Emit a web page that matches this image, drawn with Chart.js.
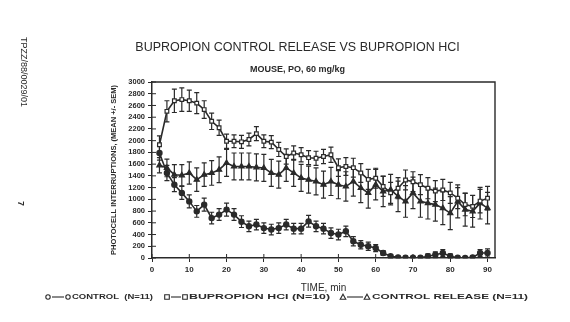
<!DOCTYPE html>
<html>
<head>
<meta charset="utf-8">
<script src="https://cdn.jsdelivr.net/npm/chart.js@4/dist/chart.umd.min.js"></script>
<style>
  html, body { margin: 0; background: #fff; }
  canvas { display: block; }
</style>
</head>
<body>
<canvas id="chart" width="570" height="322" style="width:570px;height:322px"></canvas>
<script>
// values (mean and SEM, photocell interruptions)
const times = [2, 4, 6, 8, 10, 12, 14, 16, 18, 20, 22, 24, 26, 28, 30, 32, 34, 36, 38, 40, 42, 44, 46,
  48, 50, 52, 54, 56, 58, 60, 62, 64, 66, 68, 70, 72, 74, 76, 78, 80, 82, 84, 86, 88, 90];

const control = [1790, 1450, 1250, 1110, 965, 795, 910, 680, 740, 825, 740, 620, 540, 570, 510, 485, 510, 570,
  500, 500, 625, 540, 500, 425, 400, 455, 285, 225, 200, 170, 85, 30, 10, 5, 5, 5, 30, 55, 85, 30, 5, 0, 10, 85, 85];
const controlSem = [120, 130, 120, 110, 110, 100, 110, 100, 100, 110, 100, 100, 90, 90, 90, 90, 90, 90, 90, 90,
  100, 90, 90, 90, 90, 90, 80, 70, 70, 60, 40, 30, 20, 20, 20, 20, 40, 50, 60, 40, 20, 20, 30, 60, 70];

const hcl = [1930, 2500, 2680, 2700, 2680, 2640, 2530, 2330, 2220, 1990, 1990, 1980, 2020, 2120, 1990, 1975, 1850,
  1730, 1790, 1760, 1710, 1700, 1730, 1760, 1540, 1560, 1540, 1450, 1340, 1360, 1220, 1110, 1190, 1330, 1300, 1250,
  1190, 1140, 1160, 1110, 1020, 910, 880, 970, 1020];
const hclSem = [150, 180, 200, 200, 180, 180, 150, 140, 130, 120, 110, 110, 110, 120, 110, 110, 120, 130, 120, 120,
  120, 120, 120, 130, 150, 150, 160, 160, 170, 170, 170, 180, 180, 170, 170, 170, 180, 180, 180, 180, 180, 190, 190, 200, 200];

const release = [1580, 1535, 1420, 1410, 1450, 1335, 1420, 1450, 1505, 1620, 1560, 1560, 1560, 1545, 1535, 1450,
  1420, 1535, 1450, 1365, 1335, 1305, 1250, 1305, 1250, 1220, 1305, 1195, 1110, 1250, 1135, 1165, 1050, 965, 1110,
  965, 935, 910, 850, 765, 965, 825, 795, 935, 850];
const releaseSem = [130, 150, 170, 180, 190, 200, 200, 210, 220, 230, 230, 230, 230, 230, 230, 230, 230, 230, 230, 230,
  230, 230, 230, 240, 240, 250, 250, 250, 260, 260, 260, 260, 260, 270, 270, 270, 270, 280, 280, 280, 280, 280, 270, 270, 270];

const seriesNames = ['CONTROL  (N=11)', 'BUPROPION HCI (N=10)', 'CONTROL RELEASE (N=11)'];

const INK = '#2a2a2a';

const toPoints = (ys) => times.map((t, i) => ({ x: t, y: ys[i] }));

const errorBars = {
  id: 'errorBars',
  beforeDatasetsDraw(chart) {
    const { ctx, scales: { y } } = chart;
    ctx.save();
    ctx.strokeStyle = INK;
    ctx.lineWidth = 1.2;
    chart.data.datasets.forEach((ds, di) => {
      const meta = chart.getDatasetMeta(di);
      meta.data.forEach((pt, i) => {
        const v = ds.data[i].y;
        const e = ds.sem[i];
        const top = y.getPixelForValue(v + e);
        const bot = y.getPixelForValue(Math.max(v - e, 0));
        ctx.beginPath();
        ctx.moveTo(pt.x, top);
        ctx.lineTo(pt.x, bot);
        ctx.moveTo(pt.x - 2.5, top);
        ctx.lineTo(pt.x + 2.5, top);
        ctx.moveTo(pt.x - 2.5, bot);
        ctx.lineTo(pt.x + 2.5, bot);
        ctx.stroke();
      });
    });
    ctx.restore();
  },
};

// frame on top/right, inner tick marks, legend and margin notes
const decorations = {
  id: 'decorations',
  afterDraw(chart) {
    const { ctx, chartArea: { left, top, right, bottom }, scales: { x, y } } = chart;
    ctx.save();
    ctx.strokeStyle = INK;
    ctx.lineWidth = 1.4;
    ctx.beginPath();
    ctx.moveTo(left, top);
    ctx.lineTo(right, top);
    ctx.lineTo(right, bottom);
    ctx.stroke();

    ctx.lineWidth = 1;
    ctx.beginPath();
    y.ticks.forEach((t) => {
      const py = y.getPixelForValue(t.value);
      ctx.moveTo(left, py);
      ctx.lineTo(left + 4, py);
    });
    x.ticks.forEach((t) => {
      const px = x.getPixelForValue(t.value);
      ctx.moveTo(px, bottom);
      ctx.lineTo(px, bottom - 4);
    });
    ctx.stroke();

    // legend
    const items = [
      { style: 'circle', s1: 48, s2: 68, tx: 72, tw: 81 },
      { style: 'rect', s1: 167, s2: 185, tx: 189, tw: 141 },
      { style: 'triangle', s1: 343, s2: 367, tx: 372, tw: 156 },
    ];
    const ly = 297;
    ctx.fillStyle = INK;
    ctx.lineWidth = 1.1;
    ctx.font = 'bold 7.5px "Liberation Sans", Arial, sans-serif';
    ctx.textBaseline = 'middle';
    items.forEach((it, i) => {
      ctx.beginPath();
      ctx.moveTo(it.s1 + 4, ly);
      ctx.lineTo(it.s2 - 4, ly);
      ctx.stroke();
      [it.s1, it.s2].forEach((sx) => {
        ctx.beginPath();
        if (it.style === 'circle') ctx.arc(sx, ly, 2.2, 0, Math.PI * 2);
        if (it.style === 'rect') ctx.rect(sx - 2.3, ly - 2.3, 4.6, 4.6);
        if (it.style === 'triangle') {
          ctx.moveTo(sx, ly - 2.8);
          ctx.lineTo(sx + 2.8, ly + 2.3);
          ctx.lineTo(sx - 2.8, ly + 2.3);
          ctx.closePath();
        }
        ctx.stroke();
      });
      const w = ctx.measureText(seriesNames[i]).width;
      ctx.save();
      ctx.translate(it.tx, ly);
      ctx.scale(it.tw / w, 1);
      ctx.fillText(seriesNames[i], 0, 0);
      ctx.restore();
    });

    // margin notes of the scanned page
    ctx.font = '9px "Liberation Sans", Arial, sans-serif';
    ctx.textBaseline = 'middle';
    ctx.save();
    ctx.translate(23, 37);
    ctx.rotate(Math.PI / 2);
    ctx.fillText('TPZZ/88/0029/01', 0, 0);
    ctx.restore();
    ctx.save();
    ctx.translate(20, 201);
    ctx.rotate(Math.PI / 2);
    ctx.font = 'bold 9px "Liberation Sans", Arial, sans-serif';
    ctx.fillText('7', 0, 0);
    ctx.restore();
    ctx.restore();
  },
};

const makeSet = (label, ys, sem, style, fill, radius) => ({
  label,
  data: toPoints(ys),
  sem,
  borderColor: INK,
  borderWidth: 1.6,
  pointStyle: style,
  pointRadius: radius,
  pointBackgroundColor: fill,
  pointBorderColor: INK,
  pointBorderWidth: 1.2,
  tension: 0,
});

new Chart(document.getElementById('chart'), {
  type: 'line',
  data: {
    datasets: [
      makeSet(seriesNames[0], control, controlSem, 'circle', INK, 2.6),
      makeSet(seriesNames[1], hcl, hclSem, 'rect', '#ffffff', 2.6),
      makeSet(seriesNames[2], release, releaseSem, 'triangle', INK, 3),
    ],
  },
  options: {
    responsive: false,
    animation: false,
    events: [],
    layout: { padding: { left: 100, right: 75, top: 0, bottom: 22 } },
    plugins: {
      legend: { display: false },
      tooltip: { enabled: false },
      title: {
        display: true,
        text: 'BUPROPION CONTROL RELEASE VS BUPROPION HCI',
        color: INK,
        font: { family: '"Liberation Sans", Arial, sans-serif', size: 12.5, weight: 'normal' },
        padding: { top: 40, bottom: 4 },
      },
      subtitle: {
        display: true,
        text: 'MOUSE, PO, 60 mg/kg',
        color: INK,
        font: { family: '"Liberation Sans", Arial, sans-serif', size: 9, weight: 'bold' },
        padding: { top: 5, bottom: 7.2 },
      },
    },
    scales: {
      x: {
        type: 'linear',
        min: 0,
        max: 92,
        afterFit: (scale) => { scale.height = 42; },
        ticks: {
          stepSize: 10,
          includeBounds: false,
          autoSkip: false,
          color: INK,
          padding: 3,
          font: { family: '"Liberation Sans", Arial, sans-serif', size: 8, weight: 'bold' },
          maxRotation: 0,
        },
        grid: { drawOnChartArea: false, tickLength: 4, color: INK },
        border: { color: INK, width: 1.5 },
        title: {
          display: true,
          text: 'TIME, min',
          color: INK,
          font: { family: '"Liberation Sans", Arial, sans-serif', size: 10 },
          padding: { top: 0, bottom: 6 },
        },
      },
      y: {
        min: 0,
        max: 3000,
        afterFit: (scale) => { scale.width = 52; },
        ticks: {
          stepSize: 200,
          autoSkip: false,
          color: INK,
          padding: 3,
          font: { family: '"Liberation Sans", Arial, sans-serif', size: 7.5, weight: 'bold' },
          callback: (v) => String(v),
        },
        grid: { drawOnChartArea: false, tickLength: 4, color: INK },
        border: { color: INK, width: 1.5 },
        title: {
          display: true,
          text: 'PHOTOCELL INTERRUPTIONS, (MEAN +/- SEM)',
          color: INK,
          font: { family: '"Liberation Sans", Arial, sans-serif', size: 7.5, weight: 'bold' },
          padding: { top: 9, bottom: 0 },
        },
      },
    },
  },
  plugins: [errorBars, decorations],
});
</script>
</body>
</html>
